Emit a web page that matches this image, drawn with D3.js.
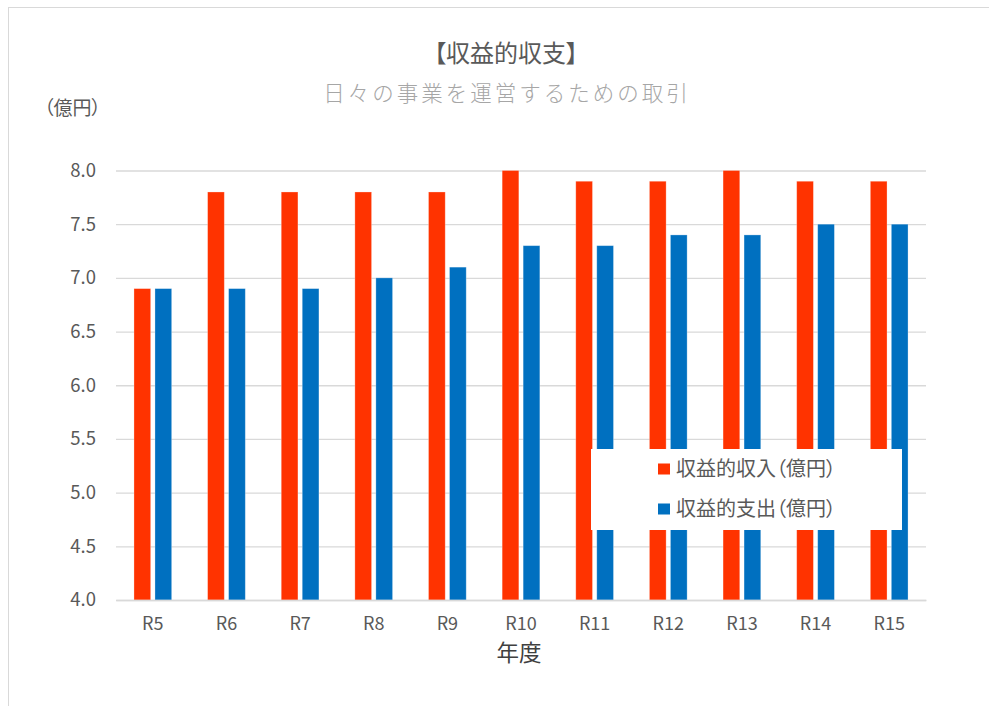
<!DOCTYPE html>
<html><head><meta charset="utf-8">
<script src="https://cdn.jsdelivr.net/npm/d3@7"></script>
<style>
html,body{margin:0;padding:0;background:#fff;}
svg{display:block;font-family:"Noto Sans CJK JP","Noto Sans",sans-serif;font-feature-settings:"palt";}
</style></head>
<body>
<svg id="c" width="989" height="706"></svg>
<script>
const categories = ["R5","R6","R7","R8","R9","R10","R11","R12","R13","R14","R15"];
const income = [6.9,7.8,7.8,7.8,7.8,8.0,7.9,7.9,8.0,7.9,7.9];
const expense = [6.9,6.9,6.9,7.0,7.1,7.3,7.3,7.4,7.4,7.5,7.5];
const seriesNames = ["収益的収入（億円）","収益的支出（億円）"];
const colors = ["#FF3300","#0070C0"];
const yTicks = [4.0,4.5,5.0,5.5,6.0,6.5,7.0,7.5,8.0];
const title = "【収益的収支】";
const subtitle = "日々の事業を運営するための取引";
const yUnit = "（億円）";
const xTitle = "年度";

const svg = d3.select("#c");
svg.append("rect").attr("x",8.5).attr("y",7.5).attr("width",1000).attr("height",720)
  .attr("fill","#fff").attr("stroke","#d9d9d9").attr("stroke-width",1);

const L=116,R=926,T=170.5,B=600;
const x = d3.scaleBand().domain(categories).range([L,R]).paddingInner(0).paddingOuter(0);
const y = d3.scaleLinear().domain([4,8]).range([B,T]);

// grid
const gAxis = svg.append("g").attr("transform",`translate(${L},0)`)
  .call(d3.axisLeft(y).tickValues(yTicks).tickFormat(d3.format(".1f")).tickSize(-(R-L)).tickPadding(20));
gAxis.select(".domain").remove();
gAxis.selectAll(".tick line").attr("stroke","#d9d9d9").attr("stroke-width",1.3);
gAxis.selectAll(".tick text").attr("fill","#595959").attr("font-size",18.5)
  .attr("font-family","'Noto Sans CJK JP',sans-serif");

// bars
const bw = 16.7, gap = 4.3;
const data = [income, expense];
data.forEach((vals,si)=>{
  svg.append("g").selectAll("rect").data(vals).join("rect")
    .attr("x",(d,i)=> x(categories[i]) + x.bandwidth()/2 + (si===0 ? -gap/2-bw : gap/2))
    .attr("y",d=>y(d))
    .attr("width",bw)
    .attr("height",d=>B-y(d))
    .attr("fill",colors[si])
    .attr("stroke","#ffffff").attr("stroke-opacity",0.35).attr("stroke-width",0.8);
});

// x axis
const xa = svg.append("g").attr("transform",`translate(0,${B})`)
  .call(d3.axisBottom(x).tickSize(0).tickPadding(17));
xa.select(".domain").attr("stroke","#d9d9d9").attr("stroke-width",1.3);
xa.selectAll(".tick text").attr("fill","#595959").attr("font-size",18)
  .attr("font-family","'Noto Sans CJK JP',sans-serif");

// titles
svg.append("text").attr("x",506).attr("y",62).attr("text-anchor","middle")
  .attr("font-size",24).attr("fill","#595959").text(title);
svg.append("text").attr("x",507).attr("y",101).attr("text-anchor","middle")
  .style("font-feature-settings","normal")
  .attr("font-size",21.5).attr("letter-spacing",3).attr("fill","#a6a6a6").attr("font-weight",300).text(subtitle);
svg.append("text").attr("x",72.5).attr("y",115).attr("text-anchor","middle")
  .attr("font-size",19).attr("fill","#595959").text(yUnit);
svg.append("text").attr("x",519).attr("y",661).attr("text-anchor","middle")
  .attr("font-size",22.5).attr("fill","#404040").text(xTitle);

// legend
const lg = svg.append("g");
lg.append("rect").attr("x",591).attr("y",449).attr("width",311).attr("height",81).attr("fill","#fff");
seriesNames.forEach((n,i)=>{
  const cy = 469 + i*40;
  lg.append("rect").attr("x",658).attr("y",cy-5.5).attr("width",12).attr("height",11).attr("fill",colors[i]);
  lg.append("text").attr("x",676).attr("y",cy+7).attr("font-size",20).attr("fill","#595959").text(n);
});
</script>
</body></html>
